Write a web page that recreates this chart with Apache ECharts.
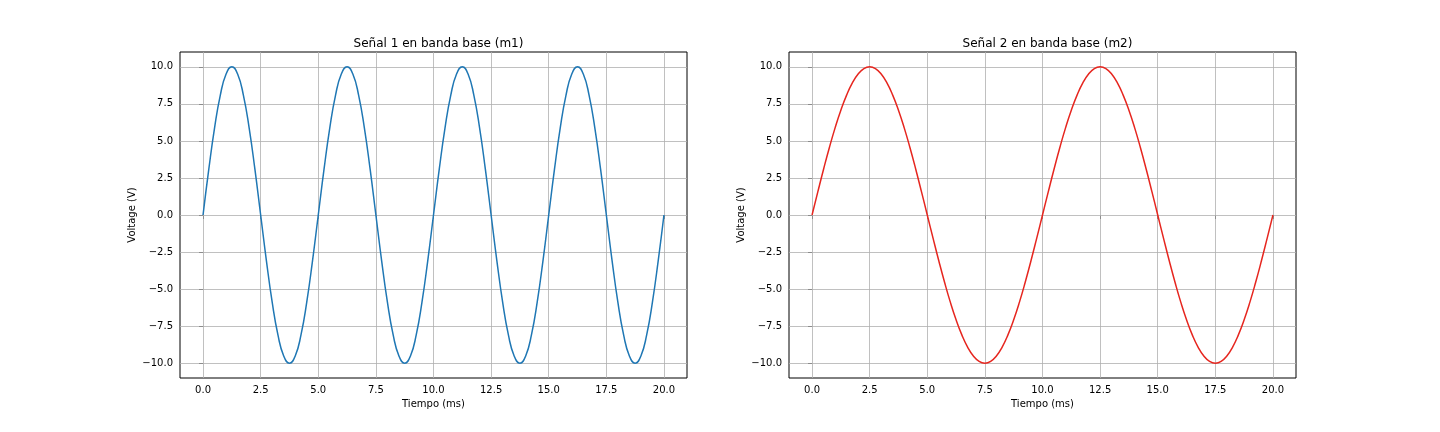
<!DOCTYPE html>
<html><head><meta charset="utf-8">
<script src="https://cdn.jsdelivr.net/npm/echarts@6/dist/echarts.min.js"></script>
<style>html,body{margin:0;padding:0;background:#fff}#c{width:1440px;height:432px}</style>
</head><body><div id="c"></div>
<script>
const time = [0,0.25,0.5,0.75,1,1.25,1.5,1.75,2,2.25,2.5,2.75,3,3.25,3.5,3.75,4,4.25,4.5,4.75,5,5.25,5.5,5.75,6,6.25,6.5,6.75,7,7.25,7.5,7.75,8,8.25,8.5,8.75,9,9.25,9.5,9.75,10,10.25,10.5,10.75,11,11.25,11.5,11.75,12,12.25,12.5,12.75,13,13.25,13.5,13.75,14,14.25,14.5,14.75,15,15.25,15.5,15.75,16,16.25,16.5,16.75,17,17.25,17.5,17.75,18,18.25,18.5,18.75,19,19.25,19.5,19.75,20];
const m1 = [0,3.09,5.88,8.09,9.51,10,9.51,8.09,5.88,3.09,0,-3.09,-5.88,-8.09,-9.51,-10,-9.51,-8.09,-5.88,-3.09,
0,3.09,5.88,8.09,9.51,10,9.51,8.09,5.88,3.09,0,-3.09,-5.88,-8.09,-9.51,-10,-9.51,-8.09,-5.88,-3.09,
0,3.09,5.88,8.09,9.51,10,9.51,8.09,5.88,3.09,0,-3.09,-5.88,-8.09,-9.51,-10,-9.51,-8.09,-5.88,-3.09,
0,3.09,5.88,8.09,9.51,10,9.51,8.09,5.88,3.09,0,-3.09,-5.88,-8.09,-9.51,-10,-9.51,-8.09,-5.88,-3.09,0];
const m2 = [0,1.56,3.09,4.54,5.88,7.07,8.09,8.91,9.51,9.88,10,9.88,9.51,8.91,8.09,7.07,5.88,4.54,3.09,1.56,
0,-1.56,-3.09,-4.54,-5.88,-7.07,-8.09,-8.91,-9.51,-9.88,-10,-9.88,-9.51,-8.91,-8.09,-7.07,-5.88,-4.54,-3.09,-1.56,
0,1.56,3.09,4.54,5.88,7.07,8.09,8.91,9.51,9.88,10,9.88,9.51,8.91,8.09,7.07,5.88,4.54,3.09,1.56,
0,-1.56,-3.09,-4.54,-5.88,-7.07,-8.09,-8.91,-9.51,-9.88,-10,-9.88,-9.51,-8.91,-8.09,-7.07,-5.88,-4.54,-3.09,-1.56,0];
const xTicks = [0,2.5,5,7.5,10,12.5,15,17.5,20];
const yTicks = [-10,-7.5,-5,-2.5,0,2.5,5,7.5,10];
const titles = ['Señal 1 en banda base (m1)','Señal 2 en banda base (m2)'];
const colors = ['#1f77b4','#e6261f'];
const F = 'DejaVu Sans';
const lefts = [180,789];
const fmt = v => (v < 0 ? '\u2212' : '') + Math.abs(v).toFixed(1);
const chart = echarts.init(document.getElementById('c'));
const grids=[],xs=[],ys=[],series=[],tt=[];
[m1,m2].forEach((d,i)=>{
  grids.push({left:lefts[i],top:52,width:507,height:326,show:true,borderColor:'#000',borderWidth:1,backgroundColor:'transparent'});
  tt.push({text:titles[i],left:lefts[i]+253.5,top:33,textAlign:'center',textStyle:{fontFamily:F,fontSize:12,fontWeight:'normal',color:'#000'}});
  xs.push({type:'value',gridIndex:i,min:-1,max:21,name:'Tiempo (ms)',nameLocation:'middle',nameGap:20,
    nameTextStyle:{fontFamily:F,fontSize:10,color:'#000'},splitLine:{show:false},axisLine:{show:false},
    axisTick:{show:true,customValues:xTicks,length:4,lineStyle:{color:'#000'}},
    axisLabel:{customValues:xTicks,formatter:fmt,fontFamily:F,fontSize:10,color:'#000',margin:7}});
  ys.push({type:'value',gridIndex:i,min:-11,max:11,name:'Voltage (V)',nameLocation:'middle',nameGap:43,nameRotate:90,
    nameTextStyle:{fontFamily:F,fontSize:10,color:'#000'},splitLine:{show:false},axisLine:{show:false},
    axisTick:{show:true,customValues:yTicks,length:4,lineStyle:{color:'#000'}},
    axisLabel:{customValues:yTicks,formatter:fmt,fontFamily:F,fontSize:10,color:'#000',margin:7}});
  series.push({type:'line',xAxisIndex:i,yAxisIndex:i,data:time.map((t,k)=>[t,d[k]]),smooth:true,showSymbol:false,
    lineStyle:{color:colors[i],width:1.5},z:5,
    markLine:{silent:true,symbol:'none',label:{show:false},animation:false,
      lineStyle:{color:'#b0b0b0',width:0.8,type:'solid'},
      data:[...xTicks.map(v=>({xAxis:v})),...yTicks.map(v=>({yAxis:v}))]}});
});
chart.setOption({animation:false,title:tt,grid:grids,xAxis:xs,yAxis:ys,series});
</script></body></html>
